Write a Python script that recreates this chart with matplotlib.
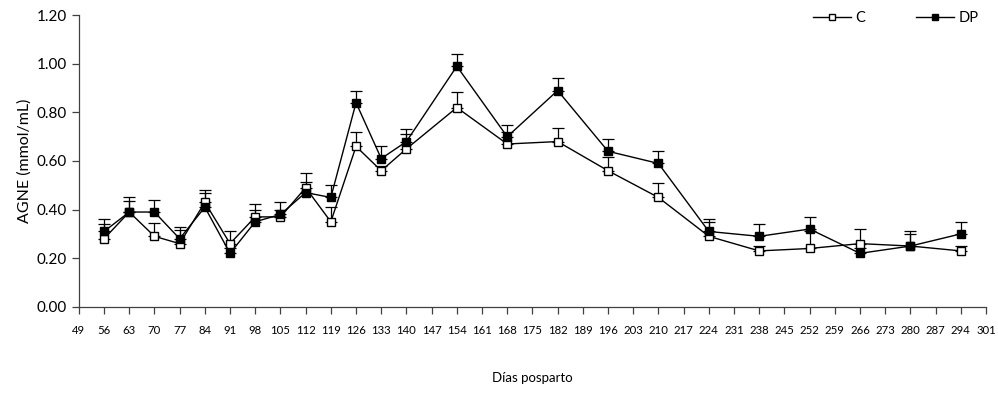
import numpy as np
import matplotlib
matplotlib.use('Agg')
import matplotlib.pyplot as plt

plt.rcParams['font.family'] = ['Lato', 'DejaVu Sans']

days = [56, 63, 70, 77, 84, 91, 98, 105, 112, 119, 126, 133, 140,
        154, 168, 182, 196, 210, 224, 238, 252, 266, 280, 294]

c_vals = [0.28, 0.39, 0.29, 0.26, 0.43, 0.26, 0.37, 0.37, 0.49, 0.35, 0.66, 0.56, 0.65,
          0.82, 0.67, 0.68, 0.56, 0.45, 0.29, 0.23, 0.24, 0.26, 0.25, 0.23]
c_err = [0.06, 0.045, 0.055, 0.055, 0.04, 0.05, 0.055, 0.03, 0.06, 0.06, 0.06, 0.02, 0.06,
         0.065, 0.05, 0.055, 0.055, 0.06, 0.06, 0.02, 0.07, 0.06, 0.05, 0.02]

dp_vals = [0.31, 0.39, 0.39, 0.28, 0.41, 0.22, 0.35, 0.38, 0.47, 0.45, 0.84, 0.61, 0.68,
           0.99, 0.70, 0.89, 0.64, 0.59, 0.31, 0.29, 0.32, 0.22, 0.25, 0.30]
dp_err = [0.05, 0.06, 0.05, 0.05, 0.07, 0.02, 0.05, 0.05, 0.045, 0.05, 0.05, 0.05, 0.05,
          0.05, 0.05, 0.05, 0.05, 0.05, 0.05, 0.05, 0.05, 0.02, 0.06, 0.05]

x_ticks = list(range(49, 302, 7))
y_ticks = [0.0, 0.2, 0.4, 0.6, 0.8, 1.0, 1.2]

fig = plt.figure(figsize=(9.98, 4.0), dpi=100)
ax = fig.add_axes([0.079, 0.233, 0.909, 0.729])

zeros = np.zeros(len(days))
ax.errorbar(days, c_vals, yerr=[zeros, c_err], fmt='none', ecolor='black',
            elinewidth=0.9, capsize=4.5, capthick=0.9, zorder=2)
ax.errorbar(days, dp_vals, yerr=[zeros, dp_err], fmt='none', ecolor='black',
            elinewidth=0.9, capsize=4.5, capthick=0.9, zorder=2)

ax.plot(days, c_vals, '-s', color='black', lw=1.0, markersize=6,
        markerfacecolor='white', markeredgecolor='black', markeredgewidth=1.0,
        label='C', zorder=3)
ax.plot(days, dp_vals, '-s', color='black', lw=1.0, markersize=6,
        markerfacecolor='black', markeredgecolor='black',
        label='DP', zorder=4)

ax.set_xlim(49, 301)
ax.set_ylim(0, 1.2)
ax.set_xticks(x_ticks)
ax.set_xticklabels([str(t) for t in x_ticks], fontsize=8.2)
ax.set_yticks(y_ticks)
ax.set_yticklabels(['%.2f' % t for t in y_ticks], fontsize=11)

for s in ['top', 'right']:
    ax.spines[s].set_visible(False)
for s in ['left', 'bottom']:
    ax.spines[s].set_color('#404040')
    ax.spines[s].set_linewidth(0.9)
ax.tick_params(axis='both', direction='out', length=5, width=0.9, color='#404040')
ax.tick_params(axis='x', pad=8)

ax.set_ylabel('AGNE (mmol/mL)', fontsize=11.5)
ax.set_xlabel('Días posparto', fontsize=9.5, labelpad=26)

ax.legend(loc='upper right', bbox_to_anchor=(1.006, 1.06), ncol=2, frameon=False,
          fontsize=10.5, handlelength=2.6, markerscale=0.75, columnspacing=3.5,
          handletextpad=0.3)

fig.savefig('out.png', dpi=100)
